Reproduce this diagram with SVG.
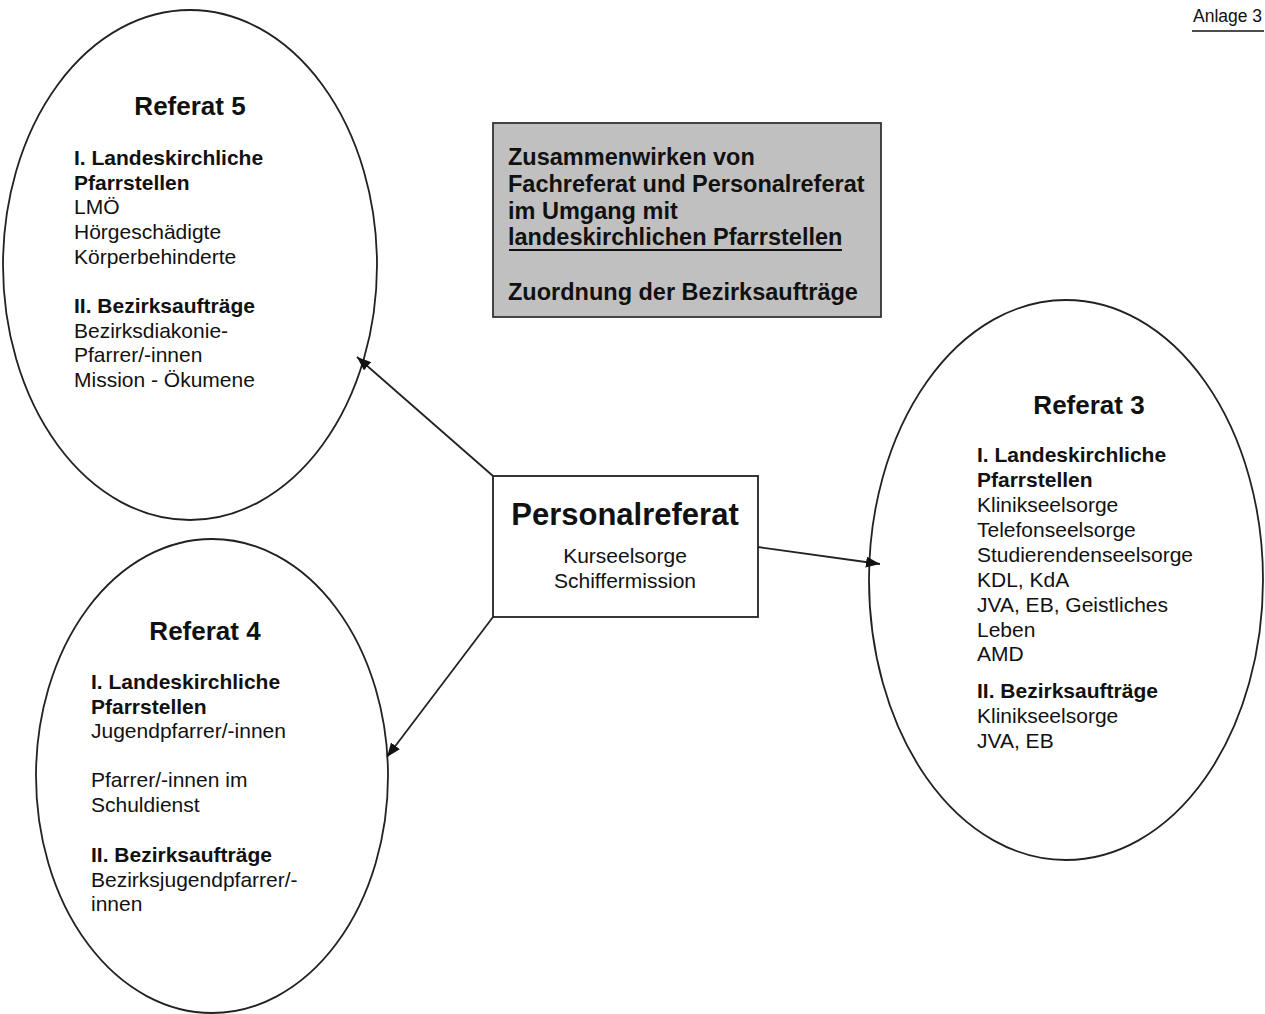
<svg xmlns="http://www.w3.org/2000/svg" width="1265" height="1014" viewBox="0 0 1265 1014">
<style>
.shape{fill:#fff;stroke:#222;stroke-width:1.8}
.gray{fill:#c0c0c0;stroke:#333;stroke-width:1.8}
.conn{stroke:#222;stroke-width:1.8;fill:none}
text{font-family:"Liberation Sans",Arial,sans-serif;fill:#111}
.title{font-size:26px;font-weight:bold}
.b{font-size:21px;font-weight:bold}
.r{font-size:21px}
.hb{font-size:23.5px;font-weight:bold}
</style>
<defs>
<marker id="ah" viewBox="0 0 14 11" refX="14" refY="5.5" markerWidth="14" markerHeight="11" markerUnits="userSpaceOnUse" orient="auto">
<path d="M0,0 L14,5.5 L0,11 Z" fill="#111"/>
</marker>
</defs>
<rect width="1265" height="1014" fill="#fff"/>
<g id="anlage">
<text x="1193" y="22" style="font-size:17.5px">Anlage 3</text>
<line x1="1192" y1="31" x2="1264" y2="31" stroke="#111" stroke-width="1.5"/>
</g>
<g id="referat5">
<ellipse class="shape" cx="190" cy="265" rx="187" ry="255"/>
<text class="title" x="190" y="115" text-anchor="middle">Referat 5</text>
<text class="b" x="74" y="165">I. Landeskirchliche</text>
<text class="b" x="74" y="190">Pfarrstellen</text>
<text class="r" x="74" y="214">LMÖ</text>
<text class="r" x="74" y="239">Hörgeschädigte</text>
<text class="r" x="74" y="264">Körperbehinderte</text>
<text class="b" x="74" y="313">II. Bezirksaufträge</text>
<text class="r" x="74" y="338">Bezirksdiakonie-</text>
<text class="r" x="74" y="362">Pfarrer/-innen</text>
<text class="r" x="74" y="387">Mission - Ökumene</text>
</g>
<g id="header">
<rect class="gray" x="493" y="123" width="388" height="194"/>
<text class="hb" x="508" y="165">Zusammenwirken von</text>
<text class="hb" x="508" y="192">Fachreferat und Personalreferat</text>
<text class="hb" x="508" y="219">im Umgang mit</text>
<text class="hb" x="508" y="245">landeskirchlichen Pfarrstellen</text>
<line x1="509" y1="250" x2="842" y2="250" stroke="#111" stroke-width="2"/>
<text class="hb" x="508" y="300">Zuordnung der Bezirksaufträge</text>
</g>
<g id="personalreferat">
<rect class="shape" x="493" y="476" width="265" height="141"/>
<text x="625" y="525" text-anchor="middle" style="font-size:31px;font-weight:bold">Personalreferat</text>
<text class="r" x="625" y="563" text-anchor="middle">Kurseelsorge</text>
<text class="r" x="625" y="588" text-anchor="middle">Schiffermission</text>
</g>
<g id="referat3">
<ellipse class="shape" cx="1066" cy="580" rx="197" ry="280"/>
<text class="title" x="1089" y="414" text-anchor="middle">Referat 3</text>
<text class="b" x="977" y="462">I. Landeskirchliche</text>
<text class="b" x="977" y="487">Pfarrstellen</text>
<text class="r" x="977" y="512">Klinikseelsorge</text>
<text class="r" x="977" y="537">Telefonseelsorge</text>
<text class="r" x="977" y="562">Studierendenseelsorge</text>
<text class="r" x="977" y="587">KDL, KdA</text>
<text class="r" x="977" y="612">JVA, EB, Geistliches</text>
<text class="r" x="977" y="637">Leben</text>
<text class="r" x="977" y="661">AMD</text>
<text class="b" x="977" y="698">II. Bezirksaufträge</text>
<text class="r" x="977" y="723">Klinikseelsorge</text>
<text class="r" x="977" y="748">JVA, EB</text>
</g>
<g id="referat4">
<ellipse class="shape" cx="212" cy="776" rx="176" ry="237"/>
<text class="title" x="205" y="640" text-anchor="middle">Referat 4</text>
<text class="b" x="91" y="689">I. Landeskirchliche</text>
<text class="b" x="91" y="714">Pfarrstellen</text>
<text class="r" x="91" y="738">Jugendpfarrer/-innen</text>
<text class="r" x="91" y="787">Pfarrer/-innen im</text>
<text class="r" x="91" y="812">Schuldienst</text>
<text class="b" x="91" y="862">II. Bezirksaufträge</text>
<text class="r" x="91" y="887">Bezirksjugendpfarrer/-</text>
<text class="r" x="91" y="911">innen</text>
</g>
<g id="connectors">
<line class="conn" x1="493" y1="476" x2="357" y2="357" marker-end="url(#ah)"/>
<line class="conn" x1="758" y1="547" x2="880" y2="564" marker-end="url(#ah)"/>
<line class="conn" x1="493" y1="617" x2="387" y2="757" marker-end="url(#ah)"/>
</g>
</svg>
